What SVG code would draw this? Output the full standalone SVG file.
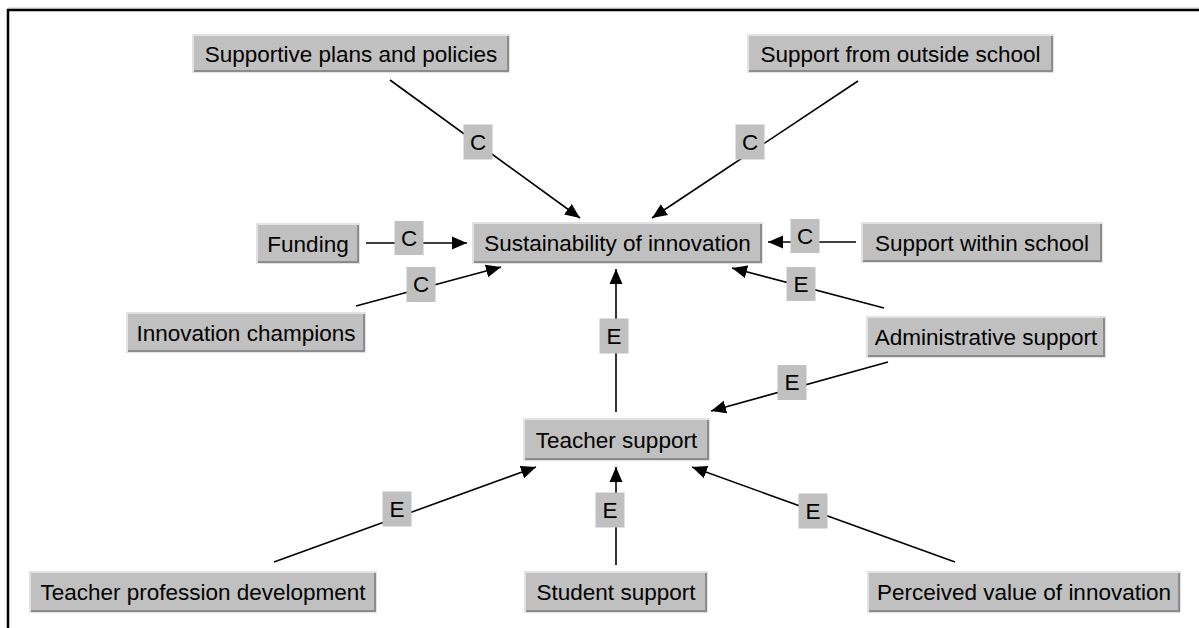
<svg xmlns="http://www.w3.org/2000/svg" width="1199" height="628" viewBox="0 0 1199 628">
<style>
.box{fill:#c0c0c0;stroke:#e2e2e2;stroke-width:2}
.sh{fill:none;stroke:#8c8c8c;stroke-width:2}
.t{font-family:"Liberation Sans",Arial,sans-serif;font-size:22.5px;fill:#000;text-anchor:middle}
.ln{stroke:#000;stroke-width:1.6;fill:none;marker-end:url(#ah)}
.lb{fill:#c0c0c0}
</style>
<defs>
<marker id="ah" markerUnits="userSpaceOnUse" markerWidth="16" markerHeight="14" refX="15" refY="6.5" orient="auto" viewBox="0 0 16 13">
<path d="M0,0 L15,6.5 L0,13 Z" fill="#000"/>
</marker>
</defs>
<rect width="1199" height="628" fill="#fff"/>
<line x1="8" y1="8" x2="1199" y2="8" stroke="#cfcfcf" stroke-width="1"/>
<path d="M8,628 V10 H1199" fill="none" stroke="#000" stroke-width="2.5"/>
<g id="connectors">
<line class="ln" x1="390" y1="80" x2="580" y2="218"/>
<line class="ln" x1="858" y1="81" x2="652" y2="218"/>
<line class="ln" x1="366" y1="243" x2="467" y2="243"/>
<line class="ln" x1="356" y1="306" x2="501" y2="267"/>
<line class="ln" x1="856" y1="242" x2="768" y2="242"/>
<line class="ln" x1="884" y1="308" x2="732" y2="268"/>
<line class="ln" x1="616" y1="412" x2="616" y2="269"/>
<line class="ln" x1="888" y1="362" x2="711" y2="411"/>
<line class="ln" x1="274" y1="562" x2="536" y2="467"/>
<line class="ln" x1="616" y1="565" x2="616" y2="467"/>
<line class="ln" x1="955" y1="562" x2="692" y2="467"/>
<g id="labels">
<rect class="lb" x="463.5" y="124.5" width="29" height="35"/><text class="t" x="478" y="150">C</text>
<rect class="lb" x="735.5" y="124.5" width="29" height="35"/><text class="t" x="750" y="150">C</text>
<rect class="lb" x="394.5" y="221" width="29" height="34"/><text class="t" x="409" y="246">C</text>
<rect class="lb" x="406.5" y="267" width="29" height="35"/><text class="t" x="421" y="292">C</text>
<rect class="lb" x="790.5" y="219" width="29" height="34"/><text class="t" x="805" y="244">C</text>
<rect class="lb" x="786.5" y="267" width="29" height="34"/><text class="t" x="801" y="292">E</text>
<rect class="lb" x="599.5" y="318.5" width="29" height="35"/><text class="t" x="614" y="344">E</text>
<rect class="lb" x="777.5" y="365" width="29" height="35"/><text class="t" x="792" y="390">E</text>
<rect class="lb" x="382.5" y="491.5" width="29" height="35"/><text class="t" x="397" y="517">E</text>
<rect class="lb" x="595.5" y="492.5" width="29" height="35"/><text class="t" x="610" y="518">E</text>
<rect class="lb" x="798.5" y="493.5" width="29" height="35"/><text class="t" x="813" y="519">E</text>
</g>
</g>
<g id="n-plans"><rect class="box" x="193" y="35" width="316" height="37"/><path class="sh" d="M194,71 H508 V36"/><text class="t" x="351" y="61.5">Supportive plans and policies</text></g>
<g id="n-outside"><rect class="box" x="748" y="35" width="305" height="37"/><path class="sh" d="M749,71 H1052 V36"/><text class="t" x="900.5" y="61.5">Support from outside school</text></g>
<g id="n-sustain"><rect class="box" x="473" y="223" width="289" height="40"/><path class="sh" d="M474,262 H761 V224"/><text class="t" x="617.5" y="251">Sustainability of innovation</text></g>
<g id="n-funding"><rect class="box" x="257" y="224" width="102" height="39"/><path class="sh" d="M258,262 H358 V225"/><text class="t" x="308" y="251.5">Funding</text></g>
<g id="n-champions"><rect class="box" x="127" y="313" width="238" height="39"/><path class="sh" d="M128,351 H364 V314"/><text class="t" x="246" y="340.5">Innovation champions</text></g>
<g id="n-within"><rect class="box" x="862" y="223" width="240" height="39"/><path class="sh" d="M863,261 H1101 V224"/><text class="t" x="982" y="250.5">Support within school</text></g>
<g id="n-admin"><rect class="box" x="867" y="317" width="238" height="40"/><path class="sh" d="M868,356 H1104 V318"/><text class="t" x="986" y="345">Administrative support</text></g>
<g id="n-teacher"><rect class="box" x="524" y="419" width="185" height="41"/><path class="sh" d="M525,459 H708 V420"/><text class="t" x="616.5" y="447.5">Teacher support</text></g>
<g id="n-student"><rect class="box" x="525" y="572" width="182" height="40"/><path class="sh" d="M526,611 H706 V573"/><text class="t" x="616" y="600">Student support</text></g>
<g id="n-tpd"><rect class="box" x="30" y="572" width="346" height="40"/><path class="sh" d="M31,611 H375 V573"/><text class="t" x="203" y="600">Teacher profession development</text></g>
<g id="n-perceived"><rect class="box" x="868" y="572" width="312" height="40"/><path class="sh" d="M869,611 H1179 V573"/><text class="t" x="1024" y="600">Perceived value of innovation</text></g>
</svg>
